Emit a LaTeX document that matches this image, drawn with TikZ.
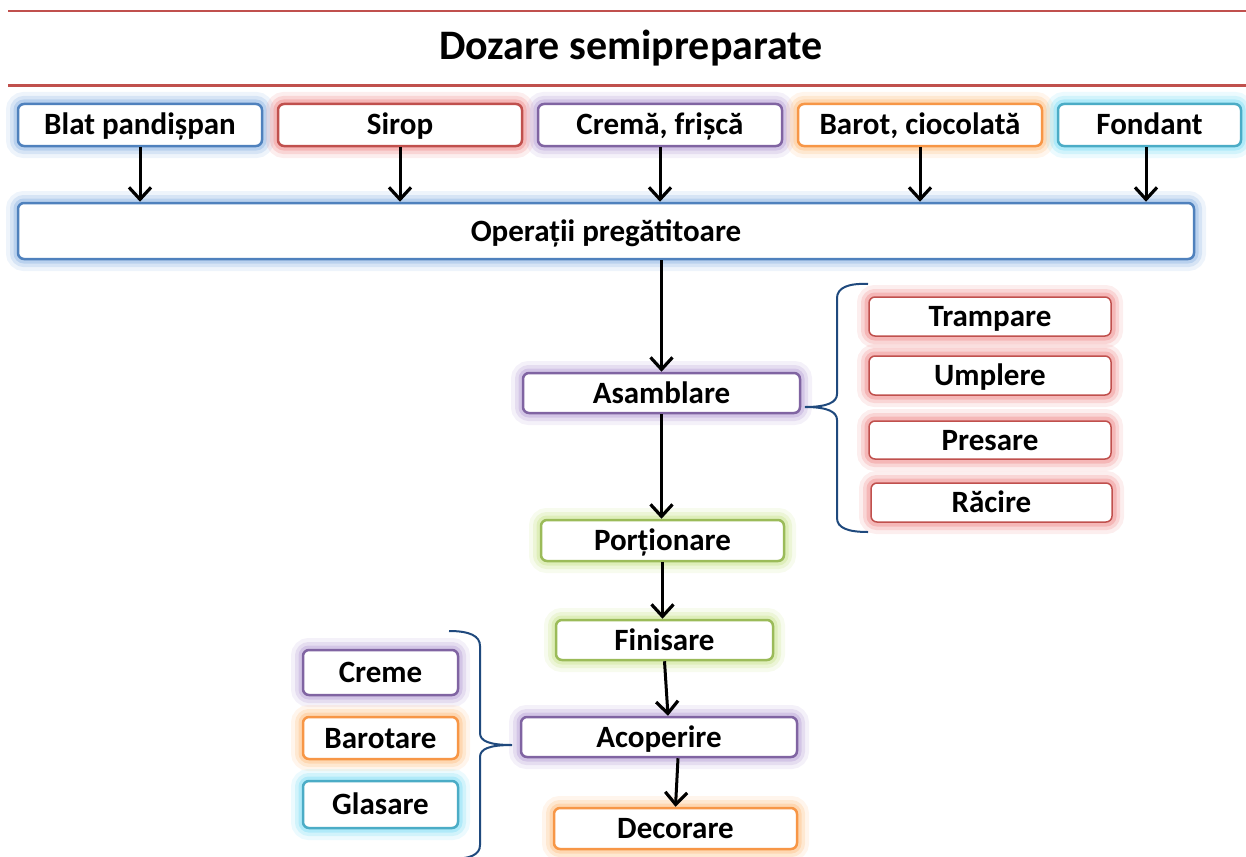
\documentclass[tikz,border=0pt]{standalone}
\usepackage{fontspec}
\setmainfont{Carlito}
\usetikzlibrary{arrows.meta}
\definecolor{oblue}{HTML}{4F81BD}
\definecolor{ored}{HTML}{C0504D}
\definecolor{opurple}{HTML}{8064A2}
\definecolor{oorange}{HTML}{F79646}
\definecolor{oaqua}{HTML}{4BACC6}
\definecolor{ogreen}{HTML}{9BBB59}
\definecolor{bracecol}{HTML}{1F497D}
\definecolor{gblue}{HTML}{8EB4E3}
\definecolor{gred}{HTML}{EE8A8A}
\definecolor{gpurple}{HTML}{B7A1D6}
\definecolor{gorange}{HTML}{FDBE80}
\definecolor{gaqua}{HTML}{7FDDF5}
\definecolor{ggreen}{HTML}{C9E38E}
\tikzset{
  glow/.style={
    preaction={draw=#1, draw opacity=0.15, line width=24pt},
    preaction={draw=#1, draw opacity=0.25, line width=16pt},
    preaction={draw=#1, draw opacity=0.40, line width=9pt}},
  box/.style 2 args={draw=#1, glow=#2, fill=white, line width=2.5pt,
    rounded corners=6pt, inner sep=0pt, align=center,
    text height=22pt, text depth=2pt,
    font=\fontsize{31}{36}\selectfont\bfseries},
  flow/.style={draw=black, line width=3pt, -{Straight Barb[length=12pt,width=22pt,line width=3.2pt]}},
  bracepath/.style={draw=bracecol, line width=2pt},
  rule/.style={draw=ored}
}
\begin{document}
\begin{tikzpicture}[x=1pt,y=-1pt]
\useasboundingbox (0,0) rectangle (1246,856);
% rules and title
\draw[rule, line width=1.5pt] (8,11) -- (1246,11);
\draw[rule, line width=3pt] (8,86) -- (1246,86);
\node[font=\fontsize{42}{48}\selectfont\bfseries] (title) at (631,48) {Dozare semipreparate};
% top row
\node[box={oblue}{gblue}, minimum width=244pt, minimum height=42pt] (blat) at (140,125) {Blat pandișpan};
\node[box={ored}{gred}, minimum width=244pt, minimum height=42pt] (sirop) at (400,125) {Sirop};
\node[box={opurple}{gpurple}, minimum width=244pt, minimum height=42pt] (crema) at (660,125) {Cremă, frișcă};
\node[box={oorange}{gorange}, minimum width=244pt, minimum height=42pt] (barot) at (920,125) {Barot, ciocolată};
\node[box={oaqua}{gaqua}, minimum width=183pt, minimum height=42pt] (fondant) at (1149.5,125) {Fondant};
% operatii
\node[box={oblue}{gblue}, minimum width=1176pt, minimum height=56pt] (oper) at (606,231) {Operații pregătitoare};
% main chain
\node[box={opurple}{gpurple}, minimum width=277pt, minimum height=40pt] (asam) at (661.5,393) {Asamblare};
\node[box={ogreen}{ggreen}, minimum width=243pt, minimum height=41pt] (port) at (662.5,540.5) {Porționare};
\node[box={ogreen}{ggreen}, minimum width=217pt, minimum height=40pt] (fin) at (664.5,640) {Finisare};
\node[box={opurple}{gpurple}, minimum width=276pt, minimum height=40pt] (acop) at (659,737) {Acoperire};
\node[box={oorange}{gorange}, minimum width=243pt, minimum height=41pt] (decor) at (675.5,828.5) {Decorare};
% right group
\node[box={ored}{gred}, line width=1.5pt, minimum width=242pt, minimum height=39pt] (tramp) at (990,316.5) {Trampare};
\node[box={ored}{gred}, line width=1.5pt, minimum width=242pt, minimum height=39pt] (umpl) at (990,375.5) {Umplere};
\node[box={ored}{gred}, line width=1.5pt, minimum width=242pt, minimum height=38pt] (pres) at (990,440) {Presare};
\node[box={ored}{gred}, line width=1.5pt, minimum width=241pt, minimum height=39pt] (racire) at (991.5,502.5) {Răcire};
% left group
\node[box={opurple}{gpurple}, minimum width=155pt, minimum height=45pt] (creme) at (380.5,672.5) {Creme};
\node[box={oorange}{gorange}, minimum width=155pt, minimum height=42pt] (barotare) at (380.5,738) {Barotare};
\node[box={oaqua}{gaqua}, minimum width=155pt, minimum height=47pt] (glas) at (380.5,804.5) {Glasare};
% arrows
\draw[flow] (blat.south) -- (blat.south |- oper.north);
\draw[flow] (sirop.south) -- (sirop.south |- oper.north);
\draw[flow] (crema.south) -- (crema.south |- oper.north);
\draw[flow] (barot.south) -- (barot.south |- oper.north);
\draw[flow] ([xshift=-3.5pt]fondant.south) -- ([xshift=-3.5pt]fondant.south |- oper.north);
\draw[flow] (asam.north |- oper.south) -- (asam.north);
\draw[flow] (asam.south) -- (asam.south |- port.north);
\draw[flow] (port.south) -- (port.south |- fin.north);
\draw[flow] (fin.south) -- ([xshift=9pt]acop.north);
\draw[flow] ([xshift=19pt]acop.south) -- (decor.north);
% braces
\coordinate (rtip) at (805,407);
\coordinate (ltip) at (512,745);
\draw[bracepath] (868,284) .. controls (848,283) and (837,288) .. (837,298) -- (837,394)
  .. controls (837,402) and (828,407) .. (rtip)
  .. controls (828,407) and (837,412) .. (837,420) -- (837,518)
  .. controls (837,528) and (848,532) .. (868,532);
\draw[bracepath] (449,631) .. controls (470,631) and (480,636) .. (480,646) -- (480,733)
  .. controls (480,741) and (489,745) .. (ltip)
  .. controls (489,745) and (480,749) .. (480,757) -- (480,845)
  .. controls (480,855) and (470,859) .. (449,859);
\end{tikzpicture}
\end{document}
